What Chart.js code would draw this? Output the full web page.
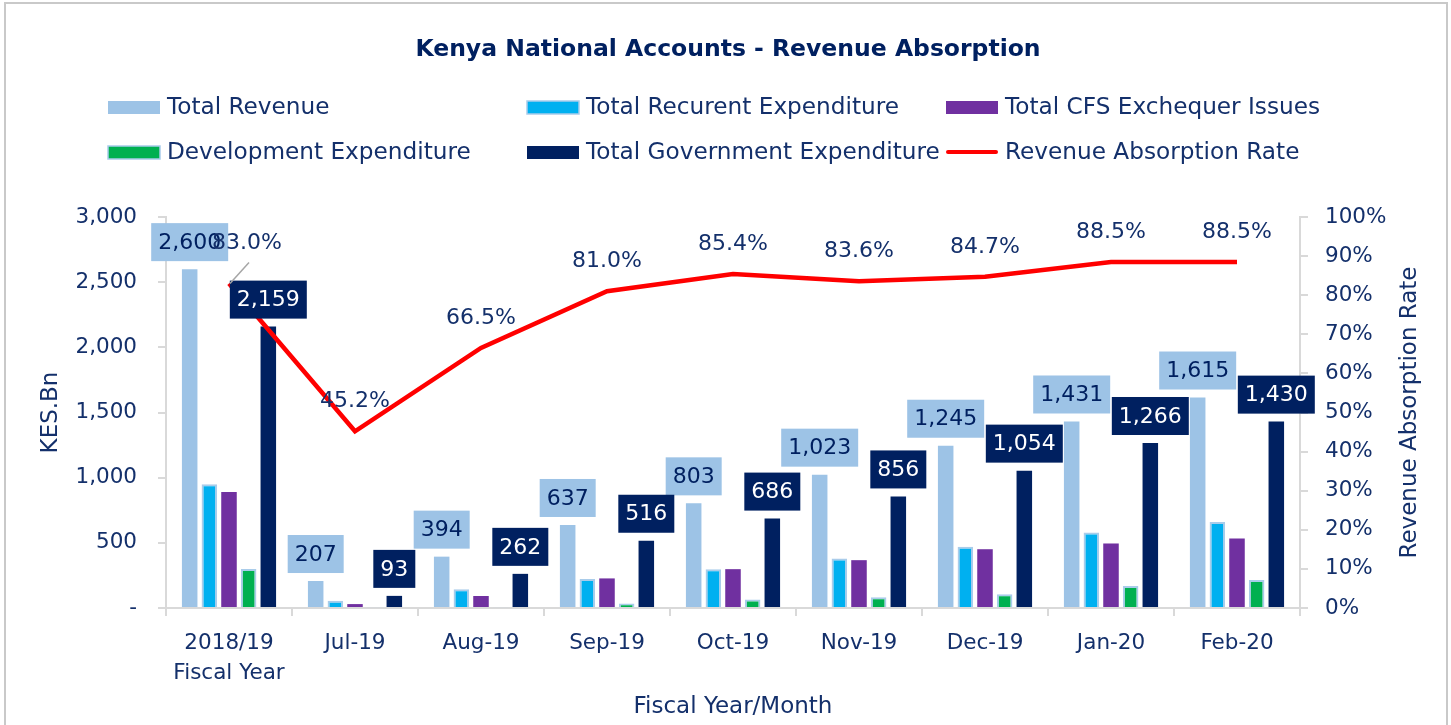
<!DOCTYPE html>
<html>
<head>
<meta charset="utf-8">
<title>Kenya National Accounts - Revenue Absorption</title>
<script src="https://cdn.jsdelivr.net/npm/chart.js@4.4.1/dist/chart.umd.min.js"></script>
<style>
    html, body { margin: 0; padding: 0; background: #fff; }
    #wrap { width: 1451px; height: 725px; }
</style>
</head>
<body>
<div id="wrap"><canvas id="absorptionChart" width="1451" height="725"></canvas></div>
<script>
// data (KES bn / %)
var months = [['2018/19', 'Fiscal Year'], 'Jul-19', 'Aug-19', 'Sep-19', 'Oct-19', 'Nov-19', 'Dec-19', 'Jan-20', 'Feb-20'];
var totalRevenue = [2600, 207, 394, 637, 803, 1023, 1245, 1431, 1615];
var recurrentExp = [950, 55, 143, 222, 298, 380, 469, 579, 660];
var cfsIssues = [890, 30, 92, 227, 298, 367, 451, 495, 533];
var devExp = [300, 6, 6, 35, 65, 82, 105, 168, 214];
var govExp = [2159, 93, 262, 516, 686, 856, 1054, 1266, 1430];
var absorptionRate = [83.0, 45.2, 66.5, 81.0, 85.4, 83.6, 84.7, 88.5, 88.5];

var NAVY = '#002060';
var TEXT = '#14306b';
var AXIS = '#d9d9d9';
var FONT = '"DejaVu Sans", sans-serif';

function fmt(v) {
    return v.toLocaleString('en-US');
}

// frame round the whole chart
var framePlugin = {
    id: 'frame',
    beforeDraw: function (chart) {
        var ctx = chart.ctx;
        ctx.save();
        ctx.fillStyle = '#fff';
        ctx.fillRect(0, 0, chart.width, chart.height);
        ctx.strokeStyle = '#c9c9c9';
        ctx.lineWidth = 2;
        ctx.strokeRect(5, 3, 1442, 740);
        ctx.restore();
    }
};

// title, legend in 3 columns, right axis title
var headerPlugin = {
    id: 'header',
    afterDraw: function (chart) {
        var ctx = chart.ctx;
        ctx.save();
        ctx.fillStyle = NAVY;
        ctx.textAlign = 'center';
        ctx.textBaseline = 'middle';
        ctx.font = 'bold 23.5px ' + FONT;
        ctx.fillText('Kenya National Accounts - Revenue Absorption', 728, 50);

        ctx.font = '23.2px ' + FONT;
        ctx.textAlign = 'left';
        chart.data.datasets.forEach(function (ds, i) {
            var x = 108 + (i % 3) * 419;
            var y = 107 + Math.floor(i / 3) * 45;
            if (ds.type === 'line') {
                ctx.strokeStyle = ds.borderColor;
                ctx.lineWidth = 4;
                ctx.lineCap = 'round';
                ctx.beginPath();
                ctx.moveTo(x + 2, y);
                ctx.lineTo(x + 50, y);
                ctx.stroke();
            } else {
                ctx.fillStyle = ds.backgroundColor;
                ctx.fillRect(x, y - 6, 52, 13);
                if (ds.borderWidth) {
                    ctx.strokeStyle = ds.borderColor;
                    ctx.lineWidth = 1.5;
                    ctx.strokeRect(x, y - 6, 52, 13);
                }
            }
            ctx.fillStyle = TEXT;
            ctx.fillText(ds.label, x + 59, y + 1);
        });

        // right axis title reads bottom to top
        var area = chart.chartArea;
        ctx.translate(1410, (area.top + area.bottom) / 2);
        ctx.rotate(-Math.PI / 2);
        ctx.textAlign = 'center';
        ctx.font = '23px ' + FONT;
        ctx.fillText('Revenue Absorption Rate', 0, 0);
        ctx.restore();
    }
};

// value labels: boxed for revenue and total expenditure, plain for the rate
var labelPlugin = {
    id: 'valueLabels',
    afterDatasetsDraw: function (chart) {
        var ctx = chart.ctx;
        ctx.save();
        ctx.font = '22px ' + FONT;
        ctx.textAlign = 'center';
        ctx.textBaseline = 'middle';

        var boxed = [
            { index: 0, bg: '#9DC3E6', fg: NAVY },
            { index: 4, bg: NAVY, fg: '#ffffff' }
        ];
        boxed.forEach(function (b) {
            var meta = chart.getDatasetMeta(b.index);
            var values = chart.data.datasets[b.index].data;
            meta.data.forEach(function (bar, j) {
                var txt = fmt(values[j]);
                var w = ctx.measureText(txt).width + 14;
                var h = 38;
                var bottom = bar.y - 8;
                ctx.fillStyle = b.bg;
                ctx.fillRect(bar.x - w / 2, bottom - h, w, h);
                ctx.fillStyle = b.fg;
                ctx.fillText(txt, bar.x, bottom - h / 2 + 1);
            });
        });

        var lineMeta = chart.getDatasetMeta(5);
        lineMeta.data.forEach(function (pt, j) {
            var txt = absorptionRate[j].toFixed(1) + '%';
            ctx.fillStyle = TEXT;
            if (j === 0) {
                // first label was dragged aside in the original, with a leader line
                ctx.strokeStyle = '#a6a6a6';
                ctx.lineWidth = 1.5;
                ctx.beginPath();
                ctx.moveTo(pt.x + 1, pt.y);
                ctx.lineTo(pt.x + 20, pt.y - 21);
                ctx.stroke();
                ctx.fillText(txt, pt.x + 18, pt.y - 40);
            } else {
                ctx.fillText(txt, pt.x, pt.y - 30);
            }
        });
        ctx.restore();
    }
};

var barStyle = function (label, data, color, border) {
    return {
        type: 'bar',
        label: label,
        data: data,
        backgroundColor: color,
        borderColor: border || color,
        borderWidth: border ? 2 : 0,
        yAxisID: 'y',
        order: 2,
        categoryPercentage: 0.78,
        barPercentage: 0.79
    };
};

var ctx = document.getElementById('absorptionChart');
window.absorptionChart = new Chart(ctx, {
    data: {
        labels: months,
        datasets: [
            barStyle('Total Revenue', totalRevenue, '#9DC3E6'),
            barStyle('Total Recurent Expenditure', recurrentExp, '#00B0F0', '#A9CCEA'),
            barStyle('Total CFS Exchequer Issues', cfsIssues, '#7030A0'),
            barStyle('Development Expenditure', devExp, '#00B050', '#A9CCEA'),
            barStyle('Total Government Expenditure', govExp, NAVY),
            {
                type: 'line',
                label: 'Revenue Absorption Rate',
                data: absorptionRate,
                borderColor: '#FF0000',
                backgroundColor: '#FF0000',
                borderWidth: 4.5,
                pointRadius: 0,
                tension: 0,
                yAxisID: 'y1',
                order: 1
            }
        ]
    },
    options: {
        responsive: false,
        animation: false,
        layout: { padding: { top: 217, left: 0, right: 0, bottom: 0 } },
        plugins: {
            legend: { display: false },
            title: { display: false },
            tooltip: { enabled: false }
        },
        scales: {
            x: {
                offset: true,
                grid: { offset: true, drawOnChartArea: false, drawTicks: true, tickLength: 8, color: AXIS, lineWidth: 2 },
                border: { display: true, color: AXIS, width: 2 },
                ticks: { color: TEXT, padding: 12, maxRotation: 0, font: { family: FONT, size: 21.5, lineHeight: 1.4 } },
                title: { display: true, text: 'Fiscal Year/Month', color: TEXT, padding: { top: 14 }, font: { family: FONT, size: 23 } },
                afterFit: function (scale) { scale.height = 117; }
            },
            y: {
                position: 'left',
                min: 0,
                max: 3000,
                grid: { drawOnChartArea: false, drawTicks: true, tickLength: 8, color: AXIS, lineWidth: 2 },
                border: { display: true, color: AXIS, width: 2 },
                ticks: {
                    stepSize: 500,
                    color: TEXT,
                    padding: 21,
                    font: { family: FONT, size: 21.5 },
                    callback: function (v) { return v === 0 ? '-' : fmt(v); }
                },
                title: { display: true, text: 'KES.Bn', color: TEXT, padding: { top: 37 }, font: { family: FONT, size: 23 } },
                afterFit: function (scale) { scale.width = 166; }
            },
            y1: {
                position: 'right',
                min: 0,
                max: 100,
                grid: { drawOnChartArea: false, drawTicks: true, tickLength: 8, color: AXIS, lineWidth: 2 },
                border: { display: true, color: AXIS, width: 2 },
                ticks: {
                    stepSize: 10,
                    color: TEXT,
                    padding: 17,
                    font: { family: FONT, size: 21.5 },
                    callback: function (v) { return v + '%'; }
                },
                afterFit: function (scale) { scale.width = 151; }
            }
        }
    },
    plugins: [framePlugin, labelPlugin, headerPlugin]
});
</script>
</body>
</html>
